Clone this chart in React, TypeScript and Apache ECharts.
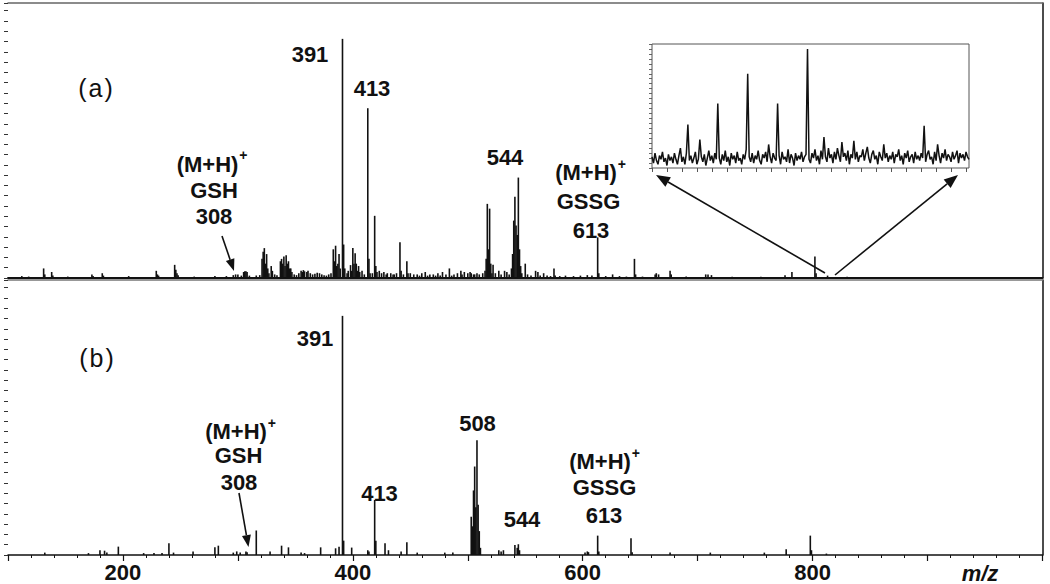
import React, { useEffect, useRef } from 'react';
import * as echarts from 'echarts';

// ---- data ----
const xTickLabels = ['200', '400', '600', '800'];

// (a) spectrum: [m/z, relative intensity] (391 = 100)
const topSpectrum: [number, number][] = [
  [112, 0.8], [118, 0.6], [131, 4], [132, 1.5], [138, 2.5], [139, 1], [152, 0.6], [173, 1.5], [174, 0.8],
  [182, 2], [183, 1], [205, 0.8], [229, 3], [230, 1.5], [231, 1], [245, 5.5], [246, 3.5], [247, 2], [248, 1.2],
  [262, 0.6], [280, 0.8], [290, 0.8], [296, 1.2], [298, 1.5], [300, 1.5], [303, 1], [305, 2.5], [306, 2.8],
  [307, 2.8], [308, 2.5], [310, 1], [316, 1], [319, 1.2], [321, 8], [322, 11], [323, 12.5], [324, 6], [325, 10],
  [326, 4], [327, 2], [329, 5], [330, 3], [332, 1.5], [334, 1.2], [337, 7], [338, 8], [339, 6], [340, 9], [341, 5],
  [342, 9.5], [343, 6], [344, 7], [345, 4], [346, 4], [347, 2.5], [349, 1.5], [351, 1.2], [353, 2], [355, 3],
  [356, 2.5], [357, 3.3], [358, 2.8], [360, 2.5], [361, 3], [363, 2], [365, 1.5], [367, 1.8], [369, 2.2], [371, 2],
  [373, 1.5], [375, 1.2], [377, 1], [379, 1.5], [381, 2], [383, 12], [384, 7], [385, 13.5], [386, 5], [387, 6],
  [388, 10], [389, 4], [391, 100], [392, 14], [393, 4], [395, 2], [396, 3], [398, 5.4], [399, 3], [400, 12.5],
  [401, 6], [402, 10.4], [403, 6], [404, 3], [405, 5], [406, 2.5], [408, 3], [410, 1.5], [413, 71], [414, 8],
  [415, 2], [417, 2], [419, 26], [420, 5], [421, 2.5], [423, 3], [425, 2], [427, 2.5], [429, 1.5], [430, 2],
  [433, 2], [435, 1.5], [436, 1.5], [438, 2], [441, 15], [442, 3], [444, 1.5], [447, 7], [448, 2], [450, 2],
  [453, 1.5], [456, 1.5], [458, 1], [460, 2], [463, 2.5], [465, 1], [467, 1.5], [470, 1.5], [472, 1], [474, 2],
  [476, 1], [478, 2.5], [481, 1.5], [484, 4], [486, 1], [488, 1.5], [491, 2], [494, 3], [495, 1.5], [497, 2.5],
  [500, 2], [502, 2.5], [503, 2], [505, 1.5], [506, 1.5], [508, 2], [510, 1.5], [513, 2], [515, 3], [516, 8],
  [517, 31], [518, 12], [519, 29], [520, 6], [521, 2], [522, 5.5], [524, 2], [527, 3], [529, 1.5], [532, 3],
  [534, 2.5], [536, 1.5], [538, 4], [539, 10], [540, 24], [541, 34], [542, 22], [543, 18], [544, 42], [545, 12],
  [546, 5], [547, 2], [550, 6], [552, 1.5], [555, 1], [559, 3], [561, 2.5], [563, 1], [566, 2], [569, 1],
  [572, 0.8], [575, 4], [576, 1], [580, 0.8], [585, 1], [592, 0.8], [598, 1], [604, 1.2], [608, 1], [613, 17],
  [614, 2], [620, 0.8], [626, 1.5], [632, 0.8], [638, 0.6], [645, 8], [646, 1.5], [652, 0.6], [663, 1.5],
  [664, 2], [666, 1.5], [676, 3], [677, 1.5], [690, 0.6], [707, 1.5], [709, 1.5], [712, 1.2], [730, 0.5],
  [755, 0.5], [776, 1.2], [782, 2.5], [802, 9], [803, 2], [813, 1], [830, 0.5],
];

// (b) spectrum
const bottomSpectrum: [number, number][] = [
  [132, 1], [170, 0.8], [180, 2], [184, 1.8], [186, 1], [196, 3.5], [218, 0.8], [227, 0.8], [234, 0.8],
  [240, 4.9], [244, 1], [261, 1.5], [280, 3.2], [283, 3.9], [296, 1], [299, 1.5], [302, 1], [307, 1.5],
  [308, 1.2], [316, 10.2], [328, 1.5], [338, 3.9], [344, 3.2], [355, 1], [358, 0.8], [372, 3.2], [385, 2.8],
  [388, 3.5], [391, 100], [392, 6], [399, 3.1], [413, 2], [414, 1.5], [419, 23], [420, 6], [428, 4.9], [431, 2],
  [442, 1.5], [447, 5.3], [456, 1], [480, 1], [487, 1], [503, 16], [504, 12], [505, 27], [506, 37], [507, 20],
  [508, 48], [509, 21], [510, 10], [511, 3], [527, 2], [529, 1.5], [531, 2], [541, 4.2], [543, 3], [544, 4.5],
  [545, 2], [602, 1], [604, 1.5], [605, 1.2], [613, 8.1], [614, 1.5], [642, 7], [643, 1.2], [676, 1], [711, 1],
  [758, 1], [777, 2.4], [798, 8.1], [799, 2], [812, 0.6],
];

// inset (magnified baseline region), relative scale 0-100
const insetSignal: number[] = [
  9, 4, 12, 6, 3, 10, 7, 13, 5, 8, 2, 11, 6, 9, 4, 12, 7, 3, 10, 16,
  5, 9, 3, 12, 35, 6, 10, 4, 8, 13, 3, 7, 23, 9, 5, 11, 2, 8, 14, 6,
  10, 4, 12, 7, 52, 8, 3, 11, 6, 14, 5, 9, 2, 12, 7, 10, 4, 13, 6, 8,
  3, 11, 7, 15, 76, 9, 5, 12, 4, 10, 7, 14, 6, 3, 11, 8, 13, 5, 19, 9,
  4, 12, 8, 6, 52, 10, 3, 13, 7, 9, 5, 15, 4, 11, 8, 2, 12, 6, 10, 7,
  13, 5, 9, 11, 96, 7, 4, 12, 8, 15, 6, 10, 3, 14, 7, 25, 9, 5, 16, 8,
  11, 4, 13, 7, 16, 10, 5, 21, 9, 12, 6, 14, 3, 11, 8, 22, 7, 13, 5, 10,
  9, 15, 6, 12, 17, 8, 4, 11, 14, 7, 10, 3, 13, 9, 6, 19, 8, 12, 5, 10,
  7, 13, 4, 11, 9, 15, 6, 10, 3, 12, 8, 14, 5, 9, 11, 4, 13, 7, 10, 6,
  12, 8, 34, 5, 11, 14, 7, 9, 3, 13, 6, 19, 10, 4, 12, 8, 15, 6, 11, 9,
  5, 13, 7, 10, 14, 4, 12, 8, 11, 6, 13, 9, 7,
];

// ---- styling helpers ----
const FONT = '"Liberation Sans", Arial, Helvetica, sans-serif';
const INK = '#111';

function txt(x: number, y: number, text: string, size = 22, extra: any = {}) {
  return {
    type: 'text', x, y, z: 20,
    style: {
      text, fontSize: size, fontWeight: 'bold', fontFamily: FONT, fill: INK,
      align: 'center', verticalAlign: 'middle', textAlign: 'center', textVerticalAlign: 'middle',
      ...extra,
    },
  };
}

function mh(cx: number, cy: number, size = 22) {
  const half = (2.805 * size) / 2;
  return [
    txt(cx, cy, '(M+H)', size),
    txt(cx + half + 1, cy - 9, '+', 14, { align: 'left', textAlign: 'left' }),
  ];
}

function arrow(x1: number, y1: number, x2: number, y2: number, head = 12, half = 4.5) {
  const dx = x2 - x1, dy = y2 - y1;
  const len = Math.hypot(dx, dy);
  const ux = dx / len, uy = dy / len;
  const bx = x2 - ux * head, by = y2 - uy * head;
  const px = -uy * half, py = ux * half;
  return [
    { type: 'line', z: 20, shape: { x1, y1, x2: bx, y2: by }, style: { stroke: INK, lineWidth: 1.6 } },
    { type: 'polygon', z: 20, shape: { points: [[x2, y2], [bx + px, by + py], [bx - px, by - py]] }, style: { fill: INK } },
  ];
}

const frameAxis = (gridIndex: number, position: string, color: string) => ({
  gridIndex, type: 'value', position, min: 0, max: 1,
  axisLine: { show: true, onZero: false, lineStyle: { color, width: 1.5 } },
  axisTick: { show: false }, axisLabel: { show: false }, splitLine: { show: false },
});

const intensityAxis = (gridIndex: number) => ({
  gridIndex, type: 'value', min: 0, max: 115, interval: 4.3,
  axisLine: { show: false, onZero: false },
  axisTick: { show: true, length: 4, lineStyle: { color: '#333', width: 1 } },
  axisLabel: { show: false }, splitLine: { show: false },
});

const option: any = {
  animation: false,
  backgroundColor: '#fff',
  grid: [
    { left: 8, right: 7.5, top: 3, height: 275 },
    { left: 8, right: 7.5, top: 280, height: 275 },
    { left: 652, top: 44, width: 317, height: 124, show: true, borderColor: '#555', borderWidth: 1, backgroundColor: '#fff', z: 5 },
  ],
  xAxis: [
    {
      gridIndex: 0, type: 'value', min: 100, max: 1000,
      axisLine: { show: true, onZero: false, lineStyle: { color: INK, width: 1.8 } },
      axisTick: { show: false }, axisLabel: { show: false }, splitLine: { show: false },
    },
    {
      gridIndex: 1, type: 'value', min: 100, max: 1000, interval: 100,
      axisLine: { show: true, onZero: false, lineStyle: { color: INK, width: 1.5 } },
      axisTick: { show: true, length: 6, lineStyle: { color: INK, width: 1.2 } },
      minorTick: { show: true, splitNumber: 5, length: 3, lineStyle: { color: INK, width: 1 } },
      axisLabel: {
        margin: 7, fontSize: 22, fontWeight: 'bold', color: INK, fontFamily: FONT, lineHeight: 20,
        formatter: (v: number) => (xTickLabels.includes(String(v)) ? String(v) : ''),
      },
      splitLine: { show: false },
    },
    frameAxis(0, 'top', '#666'),
    frameAxis(1, 'top', '#777'),
    {
      gridIndex: 2, type: 'category', boundaryGap: false,
      data: insetSignal.map((_, i) => String(i)),
      axisLine: { show: false },
      axisTick: { show: true, interval: 9, length: 4, lineStyle: { color: '#555' } },
      axisLabel: { show: false }, splitLine: { show: false },
    },
  ],
  yAxis: [
    intensityAxis(0),
    intensityAxis(1),
    frameAxis(0, 'right', INK),
    frameAxis(1, 'right', INK),
    {
      gridIndex: 2, type: 'value', min: 0, max: 100, interval: 4,
      axisLine: { show: false, onZero: false },
      axisTick: { show: true, length: 3, lineStyle: { color: '#666' } },
      axisLabel: { show: false }, splitLine: { show: false },
    },
  ],
  series: [
    {
      type: 'bar', xAxisIndex: 0, yAxisIndex: 0, data: topSpectrum, barWidth: 1.6,
      itemStyle: { color: INK }, silent: true,
    },
    {
      type: 'bar', xAxisIndex: 1, yAxisIndex: 1, data: bottomSpectrum, barWidth: 1.6,
      itemStyle: { color: INK }, silent: true,
    },
    {
      type: 'line', xAxisIndex: 4, yAxisIndex: 4, data: insetSignal, symbol: 'none', z: 6,
      lineStyle: { color: INK, width: 1.5 }, silent: true,
    },
  ],
  graphic: {
    elements: [
      // panel (a)
      txt(95.5, 88, '(\u200Aa\u200A)', 25, { fontWeight: 'normal' }),
      txt(310, 54.5, '391'),
      txt(372, 88.5, '413'),
      ...mh(207.5, 164),
      txt(214, 190.5, 'GSH'),
      txt(214, 216.5, '308'),
      ...arrow(222, 236, 234, 271),
      txt(505, 157.5, '544'),
      ...mh(586, 172.5),
      txt(588.5, 201, 'GSSG'),
      txt(591, 230, '613'),
      ...arrow(825, 273, 656, 175, 14, 5.5),
      ...arrow(835, 275, 958, 175, 14, 5.5),
      // panel (b)
      txt(96.5, 357.5, '(\u200Ab\u200A)', 25, { fontWeight: 'normal' }),
      txt(315, 338, '391'),
      ...mh(236, 431.7),
      txt(238.5, 455.8, 'GSH'),
      txt(239, 482.5, '308'),
      ...arrow(239, 493, 248.5, 547),
      txt(477.5, 423.5, '508'),
      txt(379.5, 493.5, '413'),
      txt(522, 519.5, '544'),
      ...mh(600, 461.7),
      txt(604.5, 487.5, 'GSSG'),
      txt(604, 515.8, '613'),
      txt(980, 573, 'm/z', 22, { fontStyle: 'italic', lineHeight: 20 }),
    ],
  },
};

export default function App() {
  const ref = useRef<HTMLDivElement>(null);
  useEffect(() => {
    const chart = echarts.init(ref.current as HTMLDivElement, null, { renderer: 'svg' });
    chart.setOption(option);
    return () => chart.dispose();
  }, []);
  return (
    <div
      ref={ref}
      style={{ position: 'fixed', left: 0, top: 0, width: 1050, height: 584, background: '#fff' }}
    />
  );
}
